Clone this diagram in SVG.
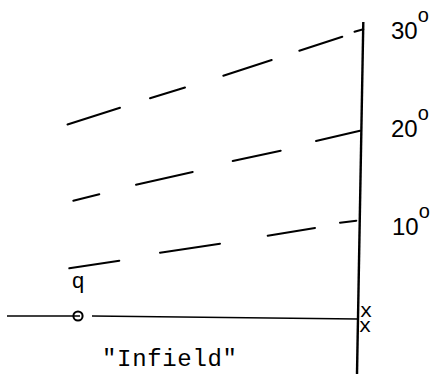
<svg xmlns="http://www.w3.org/2000/svg" width="436" height="374" viewBox="0 0 436 374">
<style>
.ln{stroke:#000;stroke-width:2;stroke-linecap:round;fill:none}
.ax{stroke:#000;stroke-width:2.4;stroke-linecap:butt;fill:none}
.h{stroke:#000;stroke-width:1.6;fill:none}
.mono{font-family:"Liberation Mono","DejaVu Sans Mono",monospace;fill:#000}
.deg{font-family:"Liberation Sans",Arial,sans-serif;fill:#000;font-size:24px}
.sup{font-size:20px}
</style>
<rect width="436" height="374" fill="#fff"/>
<g id="axis">
<path class="ax" d="M363.3,22 L357,374"/>
</g>
<g id="baseline">
<path class="h" d="M7,316 L80,316"/>
<path class="h" d="M92,316 L358,319"/>
<circle cx="78" cy="316" r="4.6" fill="none" stroke="#000" stroke-width="2"/>
</g>
<g id="connectors">
<g id="line30">
<path class="ln" d="M67.5,124.5 L120,107.8"/>
<path class="ln" d="M150,98.3 L185,87.5"/>
<path class="ln" d="M223.3,75.7 L271.7,60"/>
<path class="ln" d="M299.3,50.7 L342.3,36.7"/>
<path class="ln" d="M354.5,31.7 L363.3,29.2"/>
</g>
<g id="line20">
<path class="ln" d="M73.3,200.7 L99.3,194.3"/>
<path class="ln" d="M136,184.7 L192.7,172"/>
<path class="ln" d="M232.7,161 L280.7,150.7"/>
<path class="ln" d="M316,141 L360,130.7"/>
</g>
<g id="line10">
<path class="ln" d="M69.3,268.3 L119.3,260.7"/>
<path class="ln" d="M160,252.7 L220,243.7"/>
<path class="ln" d="M267.7,235.7 L315,228"/>
<path class="ln" d="M340,222.7 L356.3,220.7"/>
</g>
</g>
<g id="label30"><text class="deg" x="391" y="39">30<tspan class="sup" dy="-17">o</tspan></text></g>
<g id="label20"><text class="deg" x="391" y="137">20<tspan class="sup" dy="-17">o</tspan></text></g>
<g id="label10"><text class="deg" x="392" y="235">10<tspan class="sup" dy="-17">o</tspan></text></g>
<g id="q"><text class="mono" x="78" y="288" font-size="22" text-anchor="middle">q</text></g>
<g id="xmarks">
<text class="mono" font-size="21" text-anchor="middle"><tspan x="366" y="317">x</tspan><tspan x="365" y="332">x</tspan></text>
</g>
<g id="infield"><text class="mono" x="102" y="366" font-size="24" textLength="135" lengthAdjust="spacing">"Infield"</text></g>
</svg>
